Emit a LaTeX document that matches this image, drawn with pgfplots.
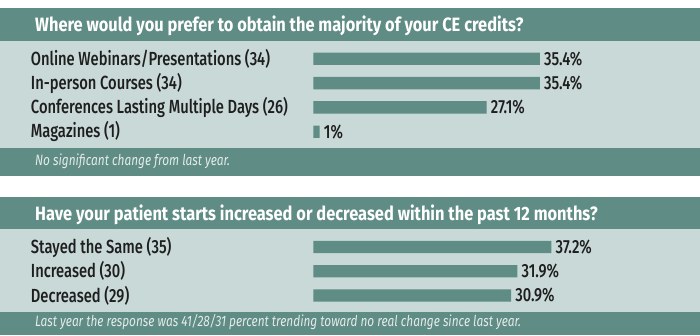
\documentclass[border=0pt]{standalone}
\usepackage{fontspec}
\IfFontExistsTF{Fira Sans Medium}
  {\setmainfont{Fira Sans Medium}[FakeStretch=0.775]}
  {\setmainfont{Fira Sans}[FakeStretch=0.80]}
\newfontfamily\titlefam{Fira Sans}[FakeStretch=0.85]
\newfontfamily\footfam{Fira Sans}[FakeStretch=0.79]
\usepackage{pgfplots}
\pgfplotsset{compat=1.18}
\usepackage{pgfplotstable}
\definecolor{tealA}{HTML}{5F8C84}
\definecolor{lightA}{HTML}{C9D9D7}
\definecolor{txt}{HTML}{1E1E1E}
\definecolor{foot}{HTML}{E4ECEA}
\newcommand{\bodyfont}{\fontsize{19bp}{21bp}\selectfont}
\newcommand{\titlefont}{\titlefam\fontsize{19.3bp}{21bp}\selectfont\bfseries}
\newcommand{\footfont}{\footfam\fontsize{15bp}{17bp}\selectfont\itshape}

\pgfplotstableread{
y x lab
0 35.4 35.4
1 35.4 35.4
2 27.1 27.1
3 1 1
}\credits
\pgfplotstableread{
y x lab
0 37.2 37.2
1 31.9 31.9
2 30.9 30.9
}\starts

\pgfplotsset{
  panelbar/.style={
    xbar, x=6.4bp, xmin=0, xmax=60, ymin=-0.5, y dir=reverse,
    bar width=12.4bp, bar shift=0pt,
    axis line style={draw=none}, tick style={draw=none}, xtick=\empty,
    yticklabel style={anchor=west, inner sep=0pt, xshift=-278.3bp, font=\bodyfont, text=txt},
    nodes near coords={\pgfplotspointmeta\%}, point meta=explicit symbolic,
    nodes near coords style={anchor=west, inner sep=0pt, xshift=4bp, font=\bodyfont, text=txt},
    clip=false,
  }
}

\begin{document}
\begin{tikzpicture}[x=1bp,y=1bp]
% panel 1 backgrounds
\fill[tealA] (0,294.5) rectangle (700,327);
\fill[lightA] (0,186.7) rectangle (700,294.5);
\fill[tealA] (0,159) rectangle (700,186.7);
% panel 2 backgrounds
\fill[tealA] (0,106.5) rectangle (700,138.3);
\fill[lightA] (0,22.7) rectangle (700,106.5);
\fill[tealA] (0,0) rectangle (700,22.7);
% titles and footers
\node[anchor=base west, inner sep=0pt, text=white, font=\titlefont] at (35,303.3) {Where would you prefer to obtain the majority of your CE credits?};
\node[anchor=base west, inner sep=0pt, text=foot, font=\footfont] at (35,170) {No significant change from last year.};
\node[anchor=base west, inner sep=0pt, text=white, font=\titlefont] at (35,115) {Have your patient starts increased or decreased within the past 12 months?};
\node[anchor=base west, inner sep=0pt, text=foot, font=\footfont] at (35,9) {Last year the response was 41/28/31 percent trending toward no real change since last year.};

\begin{axis}[panelbar,
  at={(313.3bp,288.4bp)}, anchor=north west,
  y=24.33bp, ymax=3.5,
  ytick={0,1,2,3},
  yticklabels={Online Webinars/Presentations (34), In-person Courses (34), Conferences Lasting Multiple Days (26), Magazines (1)},
]
\addplot[fill=tealA, draw=none] table[x=x, y=y, meta=lab] {\credits};
\end{axis}

\begin{axis}[panelbar,
  at={(313.3bp,100.1bp)}, anchor=north west,
  y=24.25bp, ymax=2.5,
  ytick={0,1,2},
  yticklabels={Stayed the Same (35), Increased (30), Decreased (29)},
]
\addplot[fill=tealA, draw=none] table[x=x, y=y, meta=lab] {\starts};
\end{axis}

\pgfresetboundingbox
\useasboundingbox (0,0) rectangle (700,335);
\end{tikzpicture}
\end{document}
